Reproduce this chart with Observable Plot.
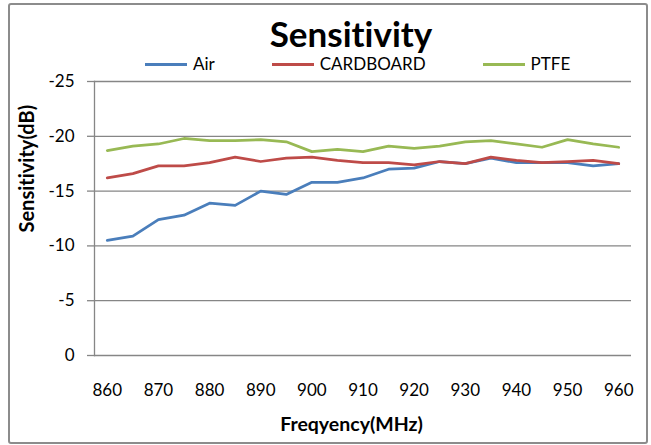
<!DOCTYPE html>
<html>
<head>
<meta charset="utf-8">
<script src="https://cdn.jsdelivr.net/npm/d3@7"></script>
<script src="https://cdn.jsdelivr.net/npm/@observablehq/plot@0.6"></script>
<style>
  html, body { margin: 0; padding: 0; background: #fff; }
  #wrap { position: relative; width: 651px; height: 445px; font-family: Lato, "Open Sans", sans-serif; color: #000; overflow: hidden; font-variant-ligatures: none; font-feature-settings: "liga" 0, "clig" 0; }
  #wrap svg, #wrap svg text { font-variant-ligatures: none; font-feature-settings: "liga" 0, "clig" 0; }
  #border { position: absolute; left: 8px; top: 3px; width: 640px; height: 441px; border: 2px solid #8c8c8c; border-radius: 3px; box-sizing: border-box; }
  #title { position: absolute; top: 16px; left: 0; width: 702px; text-align: center; font-weight: bold; font-size: 35px; line-height: 35px; }
  #legend { position: absolute; left: 145px; top: 54px; display: flex; gap: 57px; font-size: 17px; line-height: 20px; }
  .item { display: flex; align-items: center; gap: 6px; }
  .sw { width: 42px; height: 3px; }
  #chart { position: absolute; left: 0; top: 71px; }
</style>
</head>
<body>
<div id="wrap">
  <div id="border"></div>
  <div id="title">Sensitivity</div>
  <div id="legend"></div>
  <div id="chart"></div>
</div>
<script>
const freq = [860, 865, 870, 875, 880, 885, 890, 895, 900, 905, 910, 915, 920, 925, 930, 935, 940, 945, 950, 955, 960];
const air = [-10.5, -10.9, -12.4, -12.8, -13.9, -13.7, -15.0, -14.7, -15.8, -15.8, -16.2, -17.0, -17.1, -17.7, -17.5, -18.0, -17.6, -17.6, -17.6, -17.3, -17.5];
const cardboard = [-16.2, -16.6, -17.3, -17.3, -17.6, -18.1, -17.7, -18.0, -18.1, -17.8, -17.6, -17.6, -17.4, -17.7, -17.5, -18.1, -17.8, -17.6, -17.7, -17.8, -17.5];
const ptfe = [-18.7, -19.1, -19.3, -19.8, -19.6, -19.6, -19.7, -19.5, -18.6, -18.8, -18.6, -19.1, -18.9, -19.1, -19.5, -19.6, -19.3, -19.0, -19.7, -19.3, -19.0];
const seriesNames = ["Air", "CARDBOARD", "PTFE"];
const seriesColors = ["#4a7ebb", "#be4b48", "#98b954"];
const xTicks = [860, 870, 880, 890, 900, 910, 920, 930, 940, 950, 960];
const yTicks = [0, -5, -10, -15, -20, -25];
const titleText = "Sensitivity";
const xLabel = "Freqyency(MHz)";
const yLabel = "Sensitivity(dB)";

document.getElementById("title").textContent = titleText;
const legend = document.getElementById("legend");
seriesNames.forEach((n, i) => {
  const it = document.createElement("div");
  it.className = "item";
  const sw = document.createElement("div");
  sw.className = "sw";
  sw.style.background = seriesColors[i];
  const t = document.createElement("span");
  t.textContent = n;
  it.appendChild(sw); it.appendChild(t);
  legend.appendChild(it);
});

const values = [air, cardboard, ptfe];
const rows = [];
seriesNames.forEach((n, s) => freq.forEach((f, i) => rows.push({series: n, freq: f, value: values[s][i]})));

const chart = Plot.plot({
  width: 651,
  height: 374,
  marginTop: 10,
  marginBottom: 90,
  marginLeft: 94,
  marginRight: 20,
  style: {fontFamily: "Lato, 'Open Sans', sans-serif", fontSize: "17px", color: "#000", background: "transparent"},
  x: {domain: [857.5, 962.5], ticks: xTicks, tickFormat: d => String(d)},
  y: {domain: [0, -25], ticks: yTicks, tickFormat: d => String(d)},
  color: {domain: seriesNames, range: seriesColors},
  marks: [
    Plot.gridY(yTicks, {stroke: "#868686", strokeOpacity: 1, strokeWidth: 1.3}),
    Plot.frame({anchor: "left", stroke: "#868686", strokeWidth: 1.3}),
    Plot.axisY(yTicks, {tickSize: 7, tickPadding: 13, stroke: "#868686", strokeWidth: 1.3, label: null, fontSize: 17, tickFormat: d => String(d)}),
    Plot.axisX(xTicks, {tickSize: 0, tickPadding: 28, label: null, fontSize: 17, tickFormat: d => String(d)}),
    Plot.line(rows, {x: "freq", y: "value", z: "series", stroke: "series", strokeWidth: 2.75, strokeLinejoin: "round", strokeLinecap: "round"}),
    Plot.text([yLabel], {frameAnchor: "left", rotate: -90, dx: -67, dy: 14, fontWeight: "bold", fontSize: 20, fill: "#000"}),
    Plot.text([xLabel], {frameAnchor: "bottom", dx: -11.5, dy: 75, fontWeight: "bold", fontSize: 19.5, fill: "#000"})
  ]
});
document.getElementById("chart").appendChild(chart);
</script>
</body>
</html>
